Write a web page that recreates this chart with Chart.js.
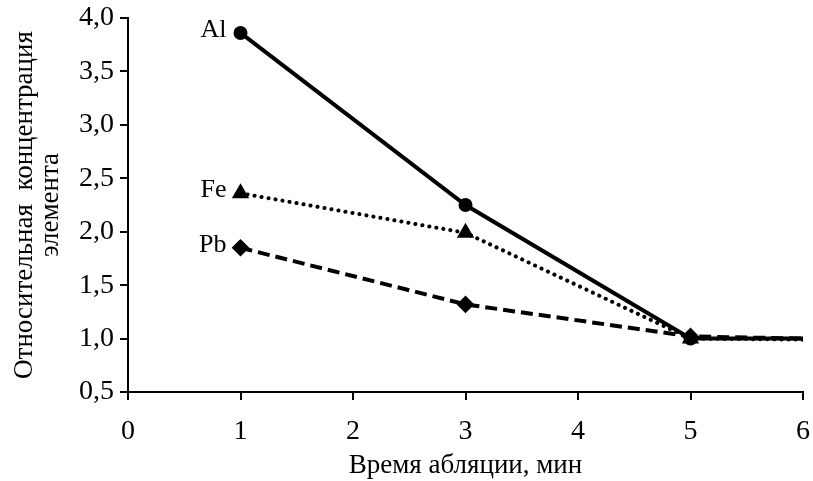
<!DOCTYPE html>
<html>
<head>
<meta charset="utf-8">
<script src="https://cdn.jsdelivr.net/npm/chart.js@4"></script>
<style>
  body { margin: 0; background: #fff; }
  #wrap { width: 813px; height: 481px; }
</style>
</head>
<body>
<div id="wrap"><canvas id="abl"></canvas></div>
<script>
  const times = [1, 3, 5, 6];
  const al = [3.86, 2.25, 1.0, 1.0];
  const fe = [2.36, 1.99, 1.0, 0.99];
  const pb = [1.85, 1.32, 1.02, 1.0];
  const names = ['Al', 'Fe', 'Pb'];
  const xTicks = [0, 1, 2, 3, 4, 5, 6];
  const yTicks = [0.5, 1.0, 1.5, 2.0, 2.5, 3.0, 3.5, 4.0];

  const serif = '"Liberation Serif", "Times New Roman", serif';
  const tickFont = { family: serif, size: 28 };
  const titleFont = { family: serif, size: 27, lineHeight: 0.95 };

  function pts(vals) {
    return vals.map((v, i) => ({ x: times[i], y: v }));
  }

  // element name drawn to the left of the first marker
  const nameLabels = {
    id: 'nameLabels',
    afterDatasetsDraw(chart) {
      const c = chart.ctx;
      c.save();
      c.font = '26px ' + serif;
      c.fillStyle = '#000';
      c.textAlign = 'right';
      c.textBaseline = 'middle';
      chart.data.datasets.forEach((ds, i) => {
        const p = chart.getDatasetMeta(i).data[0];
        c.fillText(names[i], p.x - 14, p.y - 3);
      });
      c.restore();
    }
  };

  new Chart(document.getElementById('abl'), {
    type: 'line',
    data: {
      datasets: [{
        label: names[0],
        data: pts(al),
        borderColor: '#000',
        backgroundColor: '#000',
        borderWidth: 4,
        pointStyle: 'circle',
        pointRadius: [5, 5, 5, 0],
      }, {
        label: names[1],
        data: pts(fe),
        borderColor: '#000',
        backgroundColor: '#000',
        borderWidth: 4,
        borderCapStyle: 'round',
        borderDash: [0.1, 7],
        pointStyle: 'triangle',
        pointRadius: [6, 6, 6, 0],
      }, {
        label: names[2],
        data: pts(pb),
        borderColor: '#000',
        backgroundColor: '#000',
        borderWidth: 4,
        borderDash: [12, 6],
        pointStyle: 'rectRot',
        pointRadius: [6, 6, 6, 0],
      }]
    },
    options: {
      responsive: true,
      maintainAspectRatio: false,
      animation: false,
      layout: { padding: { top: 18, right: 10 } },
      plugins: { legend: { display: false }, tooltip: { enabled: false } },
      scales: {
        x: {
          type: 'linear',
          min: 0, max: 6,
          afterBuildTicks: s => { s.ticks = xTicks.map(v => ({ value: v })); },
          afterFit: s => { s.height = 89; s.paddingRight = 0; s.paddingLeft = 0; },
          grid: { drawOnChartArea: false, color: '#000', tickLength: 8, lineWidth: 2 },
          border: { color: '#000', width: 2 },
          ticks: { color: '#000', font: tickFont, padding: 15, maxRotation: 0 },
          title: { display: true, text: 'Время абляции, мин', color: '#000', font: titleFont, padding: { top: 0, bottom: 2 } }
        },
        y: {
          min: 0.5, max: 4.0,
          afterBuildTicks: s => { s.ticks = yTicks.map(v => ({ value: v })); },
          afterFit: s => { s.width = 128; s.paddingTop = 0; s.paddingBottom = 0; },
          grid: { drawOnChartArea: false, color: '#000', tickLength: 8, lineWidth: 2 },
          border: { color: '#000', width: 2 },
          ticks: { color: '#000', font: tickFont, padding: 6, callback: v => v.toFixed(1).replace('.', ',') },
          title: { display: true, text: ['Относительная  концентрация', 'элемента'], color: '#000', font: titleFont, padding: { top: 12, bottom: 0 } }
        }
      }
    },
    plugins: [nameLabels]
  });
</script>
</body>
</html>
